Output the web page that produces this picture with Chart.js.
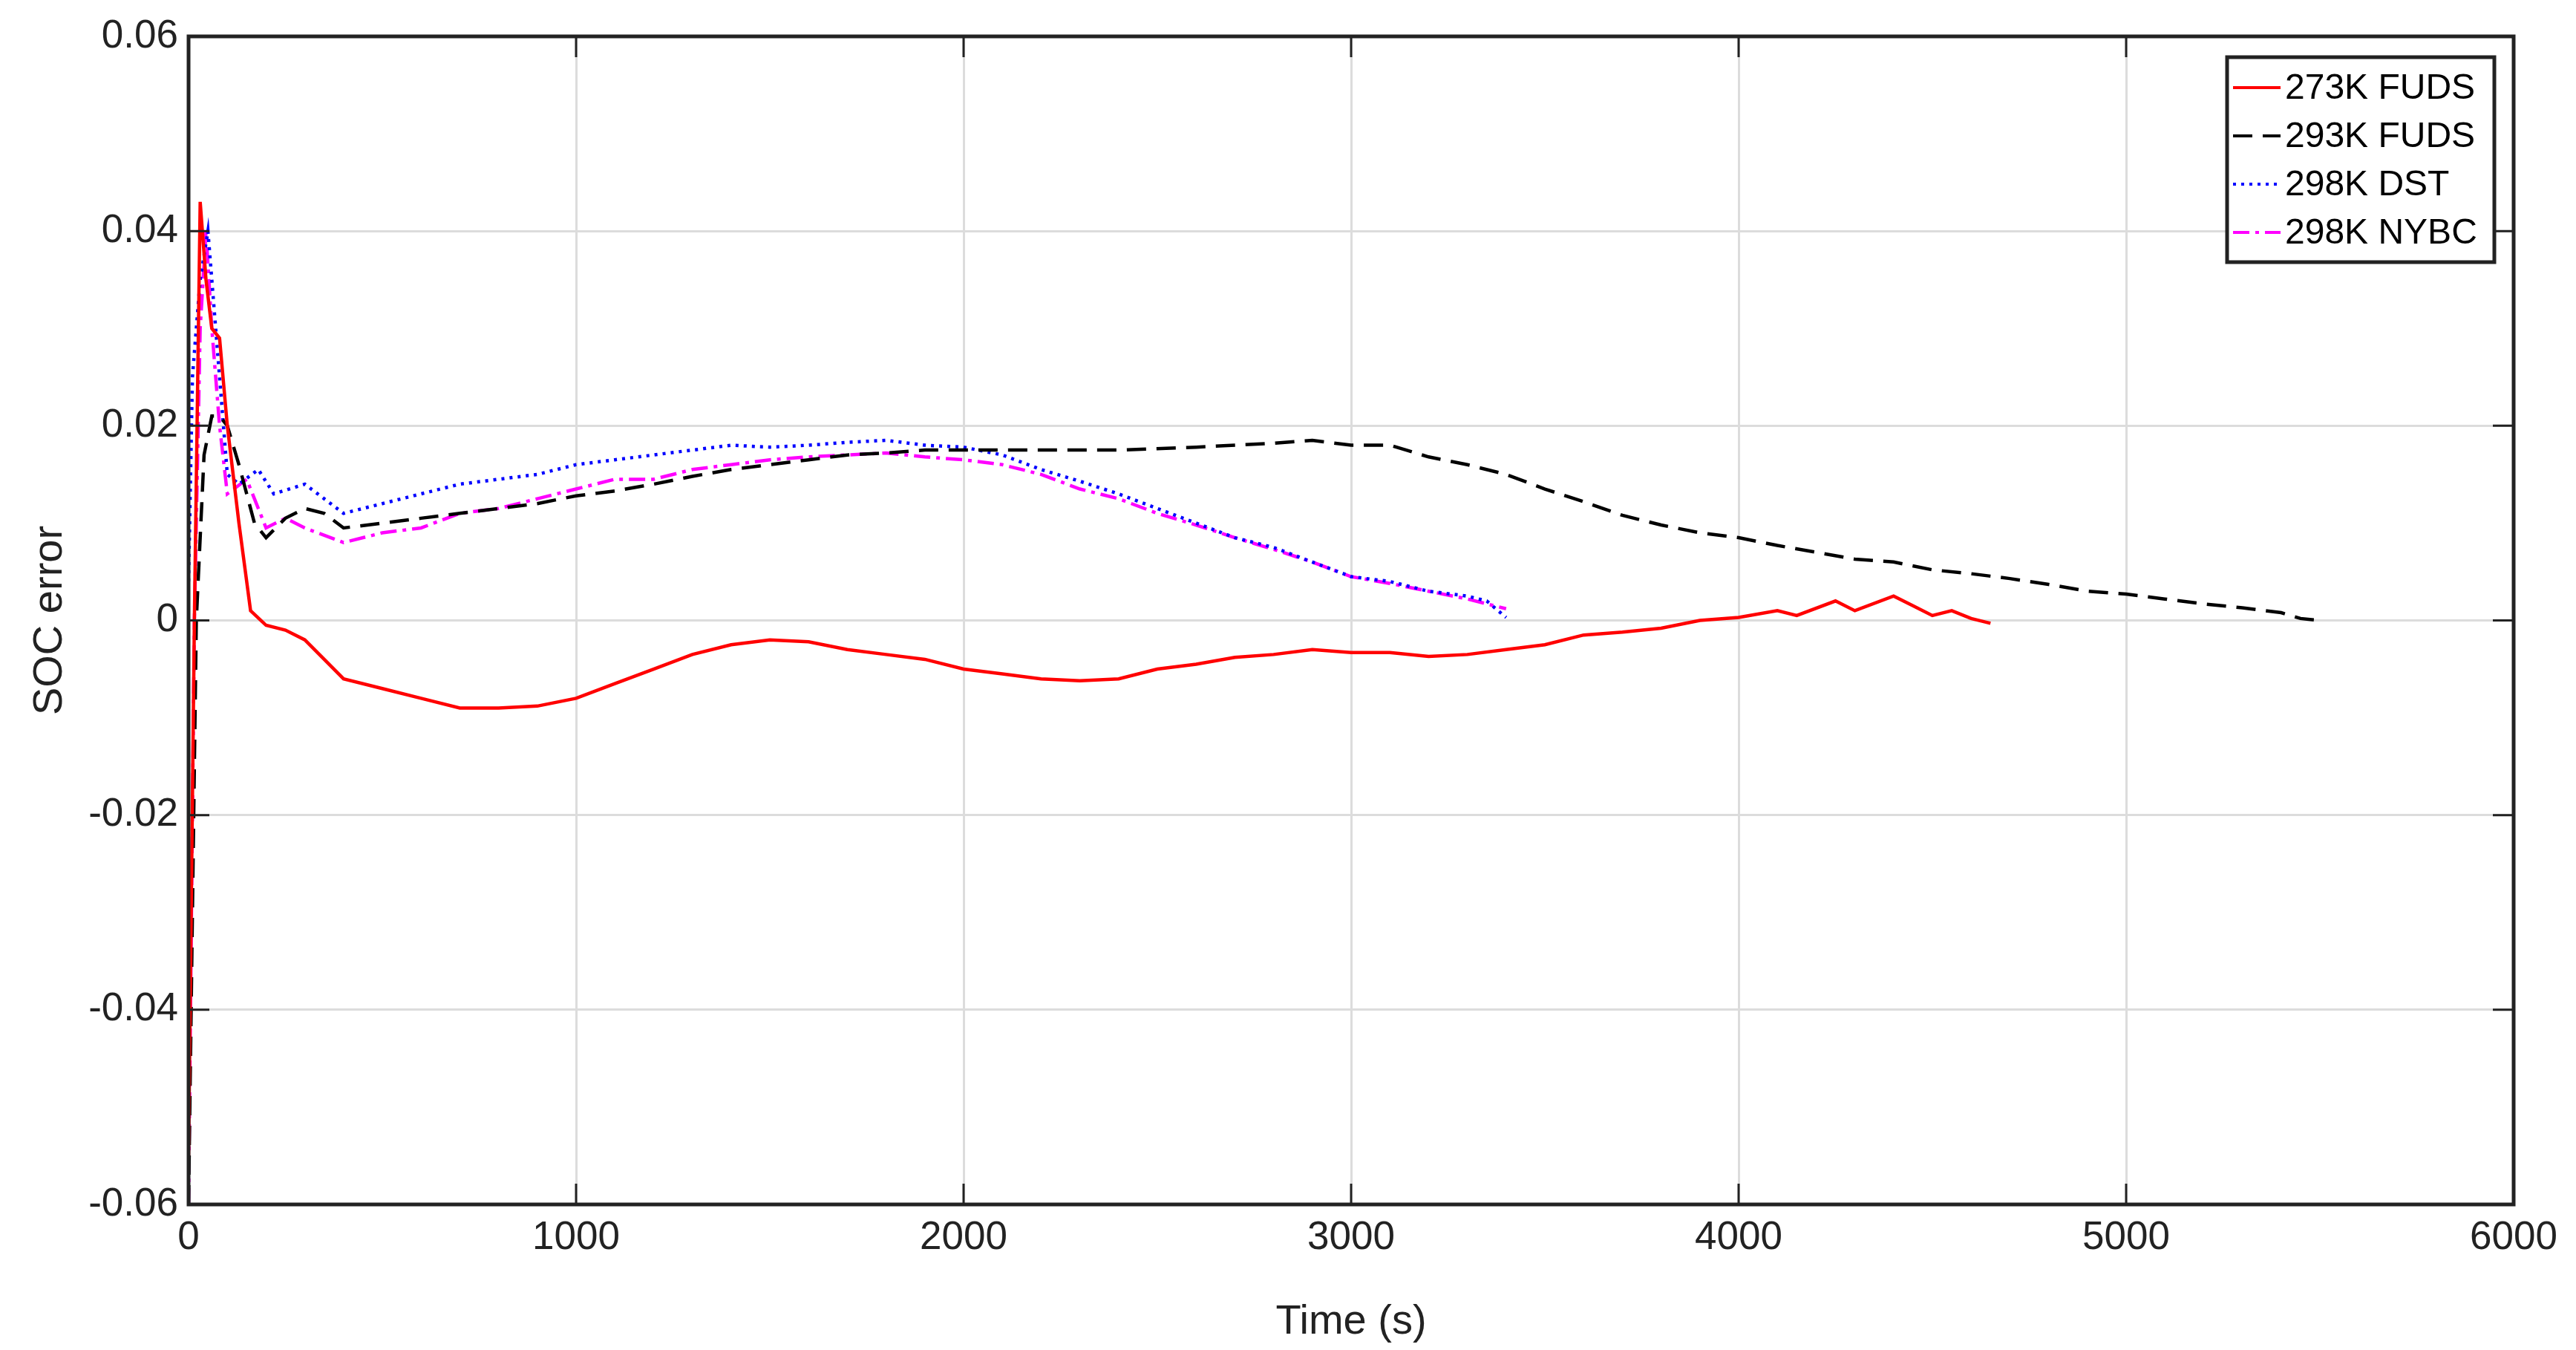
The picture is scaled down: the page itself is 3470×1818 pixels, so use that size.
<!DOCTYPE html>
<html><head><meta charset="utf-8">
<script src="https://cdn.jsdelivr.net/npm/chart.js@4"></script>
<style>html,body{margin:0;padding:0;background:#fff}#w{width:3470px;height:1818px}</style>
</head><body><div id="w"><canvas id="c"></canvas></div>
<script>
const seriesNames = ["273K FUDS","293K FUDS","298K DST","298K NYBC"];
const xTicks = [0,1000,2000,3000,4000,5000,6000];
const yTicks = [-0.06,-0.04,-0.02,0,0.02,0.04,0.06];
const redT = [0,15,30,45,60,80,100,130,160,200,250,300,350,400,500,600,700,800,900,1000,1100,1200,1300,1400,1500,1600,1700,1800,1900,2000,2100,2200,2300,2400,2500,2600,2700,2800,2900,3000,3100,3200,3300,3400,3500,3600,3700,3800,3900,4000,4100,4150,4250,4300,4400,4450,4500,4550,4600,4650];
const redV = [-0.055,0,0.043,0.035,0.03,0.029,0.02,0.01,0.001,-0.0005,-0.001,-0.002,-0.004,-0.006,-0.007,-0.008,-0.009,-0.009,-0.0088,-0.008,-0.0065,-0.005,-0.0035,-0.0025,-0.002,-0.0022,-0.003,-0.0035,-0.004,-0.005,-0.0055,-0.006,-0.0062,-0.006,-0.005,-0.0045,-0.0038,-0.0035,-0.003,-0.0033,-0.0033,-0.0037,-0.0035,-0.003,-0.0025,-0.0015,-0.0012,-0.0008,0,0.0003,0.001,0.0005,0.002,0.001,0.0025,0.0015,0.0005,0.001,0.0002,-0.0003];
const blackT = [0,20,40,60,80,100,130,170,200,250,300,350,400,500,600,700,800,900,1000,1100,1200,1300,1400,1500,1600,1700,1800,1900,2000,2200,2400,2600,2800,2900,3000,3100,3200,3300,3400,3500,3600,3700,3800,3900,4000,4100,4200,4300,4400,4500,4600,4700,4800,4900,5000,5100,5200,5300,5400,5450,5500];
const blackV = [-0.06,0,0.017,0.021,0.021,0.02,0.016,0.01,0.0085,0.0105,0.0115,0.011,0.0095,0.01,0.0105,0.011,0.0115,0.012,0.0128,0.0133,0.014,0.0148,0.0155,0.016,0.0165,0.017,0.0172,0.0175,0.0175,0.0175,0.0175,0.0178,0.0182,0.0185,0.018,0.018,0.0168,0.016,0.015,0.0135,0.0122,0.0108,0.0098,0.009,0.0085,0.0077,0.007,0.0063,0.006,0.0052,0.0048,0.0043,0.0037,0.003,0.0027,0.0022,0.0017,0.0013,0.0008,0.0002,0];
const blueT = [0,10,30,50,60,80,100,130,180,220,300,400,500,600,700,800,900,1000,1100,1200,1300,1400,1500,1600,1700,1800,1900,2000,2100,2200,2300,2400,2500,2600,2700,2800,2900,3000,3100,3200,3300,3350,3400];
const blueV = [0.004,0.025,0.035,0.04,0.035,0.025,0.015,0.014,0.0155,0.013,0.014,0.011,0.012,0.013,0.014,0.0145,0.015,0.016,0.0165,0.017,0.0175,0.018,0.0178,0.018,0.0183,0.0185,0.018,0.0178,0.017,0.0155,0.0143,0.013,0.0115,0.01,0.0085,0.0075,0.006,0.0045,0.004,0.003,0.0025,0.002,0.0003];
const magT = [0,15,30,45,60,80,100,150,200,250,300,400,500,600,700,800,900,1000,1100,1200,1300,1400,1500,1600,1700,1800,1900,2000,2100,2200,2300,2400,2500,2600,2700,2800,2900,3000,3100,3200,3300,3400];
const magV = [-0.06,0,0.03,0.04,0.03,0.02,0.013,0.0145,0.0095,0.0105,0.0095,0.008,0.009,0.0095,0.011,0.0115,0.0125,0.0135,0.0145,0.0145,0.0155,0.016,0.0165,0.0168,0.017,0.0172,0.0168,0.0165,0.016,0.015,0.0135,0.0125,0.011,0.0098,0.0085,0.0073,0.006,0.0045,0.0038,0.003,0.0022,0.0012];

const pts=(t,v)=>t.map((x,i)=>({x:x,y:v[i]}));
const styles=[
 {c:'#ff0000',d:[]},{c:'#000000',d:[26,14]},{c:'#0000ff',d:[4,7]},{c:'#ff00ff',d:[22,8,5,8]}];
const datas=[pts(redT,redV),pts(blackT,blackV),pts(blueT,blueV),pts(magT,magV)];
const datasets=seriesNames.map((n,i)=>({label:n,data:datas[i],borderColor:styles[i].c,borderDash:styles[i].d,borderWidth:4.5,pointRadius:0,tension:0,fill:false}));

const F='"Liberation Sans", Arial, sans-serif';
const legendPlugin={id:'lg',afterDraw(ch){
 const ctx=ch.ctx,a=ch.chartArea;
 const w=360,h=276,x=a.right-w-26,y=a.top+28;
 ctx.save();ctx.fillStyle='#fff';ctx.fillRect(x,y,w,h);
 ctx.lineWidth=5;ctx.strokeStyle='#222';ctx.strokeRect(x,y,w,h);
 ctx.font='48px '+F;ctx.textBaseline='middle';
 ch.data.datasets.forEach((d,i)=>{
  const yy=y+41+i*65;
  ctx.strokeStyle=d.borderColor;ctx.lineWidth=4;ctx.setLineDash(d.borderDash);
  ctx.beginPath();ctx.moveTo(x+8,yy);ctx.lineTo(x+72,yy);ctx.stroke();
  ctx.setLineDash([]);ctx.fillStyle='#000';ctx.fillText(d.label,x+78,yy+2);
 });
 ctx.strokeStyle='#222';ctx.lineWidth=3;
 const xs=ch.scales.x,ys=ch.scales.y;
 xTicks.forEach(v=>{const p=xs.getPixelForValue(v);ctx.beginPath();ctx.moveTo(p,a.bottom);ctx.lineTo(p,a.bottom-28);ctx.moveTo(p,a.top);ctx.lineTo(p,a.top+28);ctx.stroke();});
 yTicks.forEach(v=>{const p=ys.getPixelForValue(v);ctx.beginPath();ctx.moveTo(a.left,p);ctx.lineTo(a.left+28,p);ctx.moveTo(a.right,p);ctx.lineTo(a.right-28,p);ctx.stroke();});
 ctx.lineWidth=5;ctx.strokeRect(a.left,a.top,a.right-a.left,a.bottom-a.top);
 ctx.restore();
}};

new Chart(document.getElementById('c'),{type:'line',data:{datasets},
 options:{responsive:true,maintainAspectRatio:false,animation:false,
  layout:{padding:{top:49,right:84,left:30,bottom:0}},
  plugins:{legend:{display:false},tooltip:{enabled:false}},
  scales:{
   x:{type:'linear',min:0,max:6000,afterBuildTicks:s=>{s.ticks=xTicks.map(v=>({value:v}));},
      afterFit:s=>{s.height=196;},
      grid:{color:'#dcdcdc',lineWidth:3,drawTicks:false},border:{display:false},
      ticks:{font:{size:53,family:F},color:'#222',padding:14,maxRotation:0,callback:v=>String(v)},
      title:{display:true,text:'Time (s)',font:{size:56,family:F},color:'#222',padding:{top:0}}},
   y:{type:'linear',min:-0.06,max:0.06,afterBuildTicks:s=>{s.ticks=yTicks.map(v=>({value:v}));},
      afterFit:s=>{s.width=224;},
      grid:{color:'#dcdcdc',lineWidth:3,drawTicks:false},border:{display:false},
      ticks:{font:{size:53,family:F},color:'#222',padding:14,callback:v=>String(+v.toFixed(2))},
      title:{display:true,text:'SOC error',font:{size:56,family:F},color:'#222',padding:{bottom:0}}}
  }},plugins:[legendPlugin]});
</script></body></html>
